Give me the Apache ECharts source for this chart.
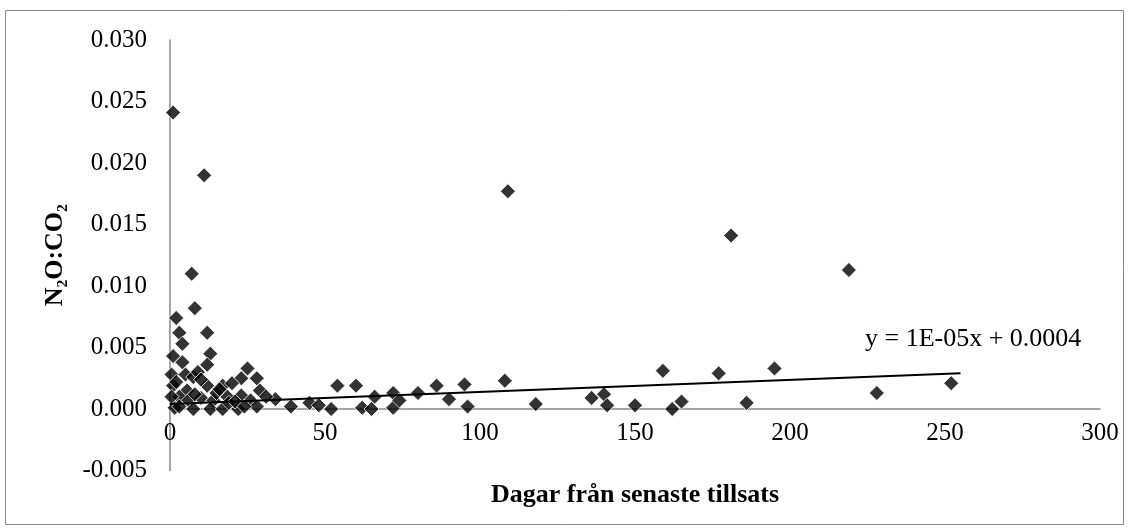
<!DOCTYPE html>
<html>
<head>
<meta charset="utf-8">
<script src="https://cdn.jsdelivr.net/npm/echarts@6/dist/echarts.min.js"></script>
<style>
html,body{margin:0;padding:0;background:#fff;}
#c{width:1129px;height:530px;}
</style>
</head>
<body>
<div id="c"></div>
<script>
// Days since latest addition (x) and N2O:CO2 ratio (y)
const days = [
  1, 11, 7, 8, 2, 12, 3, 4, 13, 1,
  12, 4, 0.5, 5, 7.5, 25, 23, 28, 1, 12,
  17, 20, 29, 5.5, 23, 3, 6, 10, 14, 18.5,
  26, 1.5, 7.5, 13, 17, 22, 28, 34, 39, 45,
  48, 52, 0.5, 2, 9, 10, 15, 16, 19, 21,
  24, 31, 8, 3,
  54, 60, 62, 65, 66, 72, 72, 74, 80, 86,
  90, 95, 96, 108, 109, 118, 136, 140, 141, 150,
  159, 162, 165, 177, 181, 186, 195, 219, 228, 252
];
const ratio = [
  0.0241, 0.0190, 0.0110, 0.0082, 0.0074, 0.0062, 0.0062, 0.0053, 0.0045, 0.0043,
  0.0036, 0.0038, 0.0028, 0.0028, 0.0026, 0.0033, 0.0025, 0.0025, 0.0019, 0.0019,
  0.0019, 0.0021, 0.0015, 0.0015, 0.0011, 0.0010, 0.0007, 0.0009, 0.0007, 0.0010,
  0.0007, 0.0001, 0.0000, 0.0000, 0.0000, 0.0000, 0.0002, 0.0008, 0.0002, 0.0005,
  0.0003, 0.0000, 0.0010, 0.0022, 0.0030, 0.0024, 0.0013, 0.0016, 0.0005, 0.0006,
  0.0002, 0.0010, 0.0012, 0.0002,
  0.0019, 0.0019, 0.0001, 0.0000, 0.0010, 0.0013, 0.0001, 0.0007, 0.0013, 0.0019,
  0.0008, 0.0020, 0.0002, 0.0023, 0.0177, 0.0004, 0.0009, 0.0012, 0.0003, 0.0003,
  0.0031, 0.0000, 0.0006, 0.0029, 0.0141, 0.0005, 0.0033, 0.0113, 0.0013, 0.0021
];
// Linear trendline endpoints (as drawn in the original)
const trendX = [0, 255];
const trendY = [0.0004, 0.0029];
const trendLabel = 'y = 1E-05x + 0.0004';
const xTicks = {min: 0, max: 300, interval: 50};
const yTicks = {min: -0.005, max: 0.030, interval: 0.005};
const xTitle = 'Dagar från senaste tillsats';
const yTitle = 'N₂O:CO₂';

const FONT = "'Liberation Serif','Times New Roman',serif";
const points = days.map((d, i) => [d, ratio[i]]);
const trend = trendX.map((d, i) => [d, trendY[i]]);

const GRID_TOP = 40, GRID_BOTTOM = 59.5;
const plotH = 530 - GRID_TOP - GRID_BOTTOM;
// move the x axis (line + labels) up to y = 0
const zeroOffset = -plotH * (0 - yTicks.min) / (yTicks.max - yTicks.min);

const chart = echarts.init(document.getElementById('c'), null, {renderer: 'canvas'});
chart.setOption({
  animation: false,
  backgroundColor: '#fff',
  grid: {left: 170, right: 29, top: GRID_TOP, bottom: GRID_BOTTOM, containLabel: false, outerBoundsMode: 'none'},
  xAxis: {
    type: 'value',
    min: xTicks.min, max: xTicks.max, interval: xTicks.interval,
    offset: zeroOffset,
    name: xTitle, nameLocation: 'middle', nameGap: 73,
    nameTextStyle: {fontFamily: FONT, fontSize: 26, fontWeight: 'bold', color: '#000'},
    axisLine: {onZero: false, lineStyle: {color: '#898989', width: 1.5}},
    axisTick: {show: false},
    splitLine: {show: false},
    axisLabel: {fontFamily: FONT, fontSize: 25, color: '#000', margin: 12}
  },
  yAxis: {
    type: 'value',
    min: yTicks.min, max: yTicks.max, interval: yTicks.interval,
    name: yTitle, nameLocation: 'middle', nameGap: 102, nameRotate: 90,
    nameTextStyle: {fontFamily: FONT, fontSize: 26, fontWeight: 'bold', color: '#000'},
    axisLine: {show: true, onZero: false, lineStyle: {color: '#898989', width: 1.5}},
    axisTick: {show: false},
    splitLine: {show: false},
    axisLabel: {fontFamily: FONT, fontSize: 25, color: '#000', margin: 23,
      formatter: v => v.toFixed(3)}
  },
  series: [
    {
      type: 'scatter',
      data: points,
      symbol: 'diamond',
      symbolSize: 15,
      itemStyle: {color: '#000', borderColor: '#fff', borderWidth: 1},
      z: 3
    },
    {
      type: 'line',
      data: trend,
      showSymbol: false,
      symbol: 'none',
      lineStyle: {color: '#000', width: 2},
      z: 4,
      silent: true
    }
  ],
  graphic: [
    {type: 'rect', shape: {x: 5.5, y: 10.5, width: 1118, height: 514},
      style: {fill: null, stroke: '#898989', lineWidth: 1}, z: -1},
    {type: 'text', left: 865, top: 326,
      style: {text: trendLabel, fontFamily: FONT, fontSize: 26, fill: '#000'}}
  ]
});
</script>
</body>
</html>
